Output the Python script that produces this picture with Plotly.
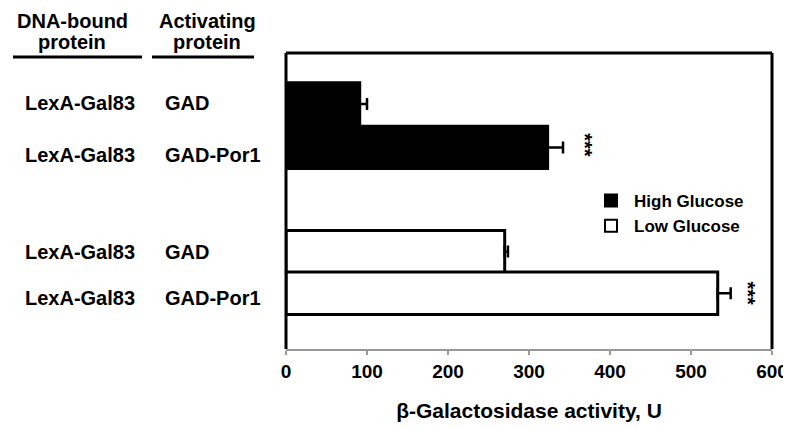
import plotly.graph_objects as go

# ---- data ----
dna_bound = ["LexA-Gal83", "LexA-Gal83", "LexA-Gal83", "LexA-Gal83"]
activating = ["GAD", "GAD-Por1", "GAD", "GAD-Por1"]
high_glucose = [91, 323]
high_err = [9, 19]
low_glucose = [270, 533]
low_err = [4, 16]
significance = ["***", "***"]
x_ticks = [0, 100, 200, 300, 400, 500, 600]
header_line1 = ["DNA-bound", "Activating"]
header_line2 = ["protein", "protein"]

# ---- layout positions (row centres on a numeric y scale) ----
ypos_high = [1.19, 2.2]
ypos_low = [4.63, 5.6]
label_y = [1.17, 2.37, 4.63, 5.7]

FONT = "Liberation Sans, Arial, sans-serif"
OFF = 8  # default page body margin
W, H = 791 - OFF, 428 - OFF
# screen-pixel targets for the plot area
SL, SR, ST, SB = 286, 772, 53, 349
L, T = SL - OFF, ST - OFF
R, B = W - (SR - OFF), H - (SB - OFF)
pw = SR - SL
ph = SB - ST


def px_x(px):
    return (px - SL) / pw


def px_y(py):
    return 1 - (py - ST) / ph


fig = go.Figure()
fig.add_trace(go.Bar(
    x=high_glucose, y=ypos_high, orientation="h", width=0.99,
    name="High Glucose",
    marker=dict(color="black", line=dict(color="black", width=3)),
    error_x=dict(type="data", array=high_err, arrayminus=[0, 0], symmetric=False,
                 color="black", thickness=2.5, width=6),
))
fig.add_trace(go.Bar(
    x=low_glucose, y=ypos_low, orientation="h", width=0.99,
    name="Low Glucose",
    marker=dict(color="white", line=dict(color="black", width=3)),
    error_x=dict(type="data", array=low_err, arrayminus=[0, 0], symmetric=False,
                 color="black", thickness=2.5, width=6),
))

lab_font = dict(size=20, family=FONT, color="black", weight="bold")
ann = []
for i in range(4):
    ann.append(dict(x=px_x(24), y=label_y[i], xref="paper", yref="y", text=dna_bound[i],
                    showarrow=False, xanchor="left", yanchor="middle", borderpad=0,
                    font=lab_font))
    ann.append(dict(x=px_x(164), y=label_y[i], xref="paper", yref="y", text=activating[i],
                    showarrow=False, xanchor="left", yanchor="middle", borderpad=0,
                    font=lab_font))

# headers (two lines each)
for l1, l2, cx in zip(header_line1, header_line2, [72, 207]):
    ann.append(dict(x=px_x(cx), y=px_y(OFF + 0.5), xref="paper", yref="paper",
                    text=l1, showarrow=False, xanchor="center", yanchor="top",
                    borderpad=0, font=lab_font))
    ann.append(dict(x=px_x(cx), y=px_y(42), xref="paper", yref="paper",
                    text=l2, showarrow=False, xanchor="center", yanchor="middle",
                    borderpad=0, font=lab_font))

# significance stars
sig_x = [high_glucose[1] + high_err[1] + 22 / 0.81, low_glucose[1] + low_err[1] + 17 / 0.81]
sig_y = [ypos_high[1] - 0.05, ypos_low[1] - 0.0]
for sx, sy, s in zip(sig_x, sig_y, significance):
    ann.append(dict(x=sx, y=sy, xref="x", yref="y", text=s, showarrow=False,
                    textangle=90, xanchor="center", yanchor="middle",
                    font=dict(size=20, family=FONT, color="black", weight="bold")))

shapes = []
# underlines under headers
for x0, x1 in [(13, 142), (152, 254)]:
    shapes.append(dict(type="line", xref="paper", yref="paper",
                       x0=px_x(x0), x1=px_x(x1), y0=px_y(57), y1=px_y(57),
                       line=dict(color="black", width=3)))
# black frame: left, top, right
shapes.append(dict(type="line", xref="paper", yref="paper", x0=0, x1=1, y0=1, y1=1,
                   line=dict(color="black", width=3)))
shapes.append(dict(type="line", xref="paper", yref="paper", x0=0, x1=0, y0=0, y1=1,
                   line=dict(color="black", width=3)))
shapes.append(dict(type="line", xref="paper", yref="paper", x0=1, x1=1, y0=0, y1=1,
                   line=dict(color="black", width=3)))

fig.update_layout(
    width=W, height=H,
    margin=dict(l=L, r=R, t=T, b=B, autoexpand=False),
    plot_bgcolor="white", paper_bgcolor="white",
    font=dict(family=FONT, color="black", weight="bold"),
    barmode="overlay",
    xaxis=dict(range=[0, 600], tickvals=x_ticks, showgrid=False, zeroline=False,
               automargin=False,
               showline=True, linecolor="#999999", linewidth=2,
               ticks="outside", tickcolor="#999999", ticklen=4, tickwidth=2,
               tickfont=dict(size=19, family=FONT, color="black", weight="bold"),
               title=dict(text="β-Galactosidase activity, U", standoff=23,
                          font=dict(size=21, family=FONT, color="black", weight="bold"))),
    yaxis=dict(range=[6.9, 0], showgrid=False, zeroline=False, showticklabels=False,
               automargin=False, showline=False, ticks=""),
    showlegend=True,
    legend=dict(x=px_x(588), y=px_y(183), xanchor="left", yanchor="top",
                bgcolor="rgba(0,0,0,0)", tracegroupgap=0, itemsizing="constant",
                itemwidth=36,
                font=dict(size=17, family=FONT, color="black", weight="bold")),
    annotations=ann,
    shapes=shapes,
)

fig.write_html("out.html")
